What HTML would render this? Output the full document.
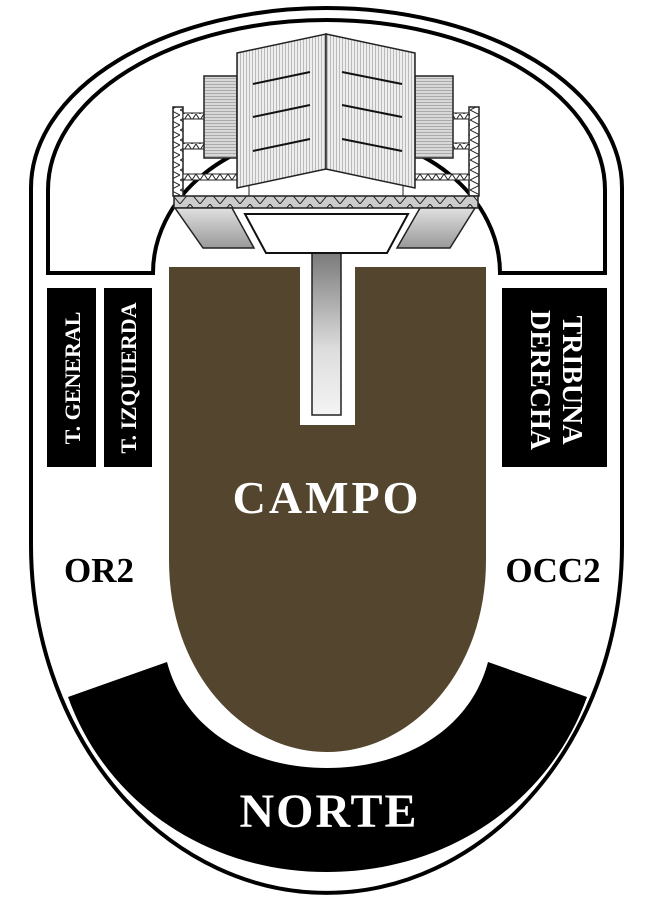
<!DOCTYPE html>
<html><head><meta charset="utf-8"><style>
html,body{margin:0;padding:0;background:#fff;}
svg{display:block;}
text{font-family:"Liberation Serif",serif;font-weight:bold;}
</style></head><body>
<svg width="653" height="904" viewBox="0 0 653 904" xmlns="http://www.w3.org/2000/svg">
<defs>
<pattern id="vs" width="3" height="10" patternUnits="userSpaceOnUse"><rect width="3" height="10" fill="#eee"/><rect width="1" height="10" fill="#bbb"/></pattern>
<pattern id="hs" width="10" height="3" patternUnits="userSpaceOnUse"><rect width="10" height="3" fill="#d8d8d8"/><rect width="10" height="1" fill="#aaa"/></pattern>
<linearGradient id="stem" x1="0" y1="0" x2="0" y2="1"><stop offset="0" stop-color="#777"/><stop offset="0.6" stop-color="#ddd"/><stop offset="1" stop-color="#f4f4f4"/></linearGradient>
<linearGradient id="trap" x1="0" y1="0" x2="0" y2="1"><stop offset="0" stop-color="#e0e0e0"/><stop offset="1" stop-color="#999"/></linearGradient>
<pattern id="zig" width="20" height="12" patternUnits="userSpaceOnUse"><rect width="20" height="12" fill="#ccc"/><path d="M0,12 L10,0 L20,12" fill="none" stroke="#222" stroke-width="1"/></pattern>
<pattern id="zz" width="8" height="6" patternUnits="userSpaceOnUse"><rect width="8" height="6" fill="#fff"/><path d="M0,6 L4,0 L8,6" fill="none" stroke="#222" stroke-width="1"/></pattern>
<pattern id="zv" width="10" height="10" patternUnits="userSpaceOnUse"><rect width="10" height="10" fill="#fff"/><path d="M0,0 L10,5 L0,10" fill="none" stroke="#222" stroke-width="1"/></pattern>
</defs>
<path d="M31,188 A295.5,180 0 0 1 622,188 L622,545 A295.5,348 0 0 1 31,545 Z" fill="#fff" stroke="#000" stroke-width="4"/>
<path d="M48,273 L48,190 A278.5,170 0 0 1 605,190 L605,273 L500,273 A173.5,140 0 0 0 153,273 Z" fill="#fff" stroke="#000" stroke-width="4"/>
<path d="M169,267 L169,560 C169,675 245,752 327,752 C409,752 486,675 486,560 L486,267 Z" fill="#54452e"/>
<rect x="300" y="255" width="55" height="170" fill="#fff"/>
<rect x="312" y="250" width="29" height="165" fill="url(#stem)" stroke="#222" stroke-width="1.5"/>
<path d="M68,697 L167,662 C185,730 250,768 327,768 C404,768 470,730 488,662 L587,697 C550,800 450,872 327,872 C204,872 105,800 68,697 Z" fill="#000"/>
<rect x="47" y="288" width="49" height="179" fill="#000"/>
<rect x="104" y="288" width="48" height="179" fill="#000"/>
<rect x="502" y="288" width="105" height="179" fill="#000"/>
<text transform="translate(80,378) rotate(-90)" text-anchor="middle" font-size="22" fill="#fff">T. GENERAL</text>
<text transform="translate(136,378) rotate(-90)" text-anchor="middle" font-size="22" fill="#fff">T. IZQUIERDA</text>
<text transform="translate(563,380) rotate(90)" text-anchor="middle" font-size="28" fill="#fff">TRIBUNA</text>
<text transform="translate(531,380) rotate(90)" text-anchor="middle" font-size="28" fill="#fff">DERECHA</text>
<text x="99" y="582" text-anchor="middle" font-size="35" fill="#000">OR2</text>
<text x="553" y="582" text-anchor="middle" font-size="35" fill="#000">OCC2</text>
<text x="327" y="513" text-anchor="middle" font-size="46" letter-spacing="3" fill="#fff">CAMPO</text>
<text x="329" y="827" text-anchor="middle" font-size="48" letter-spacing="2" fill="#fff">NORTE</text>
<rect x="173" y="107" width="10" height="89" fill="url(#zv)" stroke="#222" stroke-width="1.5"/>
<rect x="469" y="107" width="10" height="89" fill="url(#zv)" stroke="#222" stroke-width="1.5"/>
<rect x="183" y="113" width="22" height="6" fill="url(#zz)" stroke="#222"/>
<rect x="183" y="143" width="22" height="6" fill="url(#zz)" stroke="#222"/>
<rect x="183" y="174" width="55" height="6" fill="url(#zz)" stroke="#222"/>
<rect x="448" y="113" width="21" height="6" fill="url(#zz)" stroke="#222"/>
<rect x="448" y="143" width="21" height="6" fill="url(#zz)" stroke="#222"/>
<rect x="415" y="174" width="54" height="6" fill="url(#zz)" stroke="#222"/>
<rect x="204" y="76" width="33" height="82" fill="url(#hs)" stroke="#222" stroke-width="1.5"/>
<rect x="415" y="76" width="38" height="82" fill="url(#hs)" stroke="#222" stroke-width="1.5"/>
<line x1="249" y1="186" x2="249" y2="196" stroke="#222"/>
<line x1="403" y1="186" x2="403" y2="196" stroke="#222"/>
<polygon points="237,53 326,34 326,169 237,188" fill="url(#vs)" stroke="#222" stroke-width="1.5"/>
<polygon points="326,34 415,53 415,188 326,169" fill="url(#vs)" stroke="#222" stroke-width="1.5"/>
<g stroke="#111" stroke-width="2">
<line x1="253" y1="84" x2="310" y2="72"/><line x1="253" y1="117" x2="310" y2="105"/><line x1="253" y1="151" x2="310" y2="139"/>
<line x1="342" y1="72" x2="402" y2="84"/><line x1="342" y1="105" x2="402" y2="117"/><line x1="342" y1="139" x2="402" y2="151"/>
</g>
<rect x="174" y="196" width="304" height="12" fill="url(#zig)" stroke="#222" stroke-width="1.5"/>
<polygon points="175,208 232,208 254,248 203,248" fill="url(#trap)" stroke="#222" stroke-width="1.5"/>
<polygon points="475,208 420,208 397,248 450,248" fill="url(#trap)" stroke="#222" stroke-width="1.5"/>
<polygon points="245,214 408,214 387,253 266,253" fill="#fff" stroke="#111" stroke-width="2"/>
</svg>
</body></html>
